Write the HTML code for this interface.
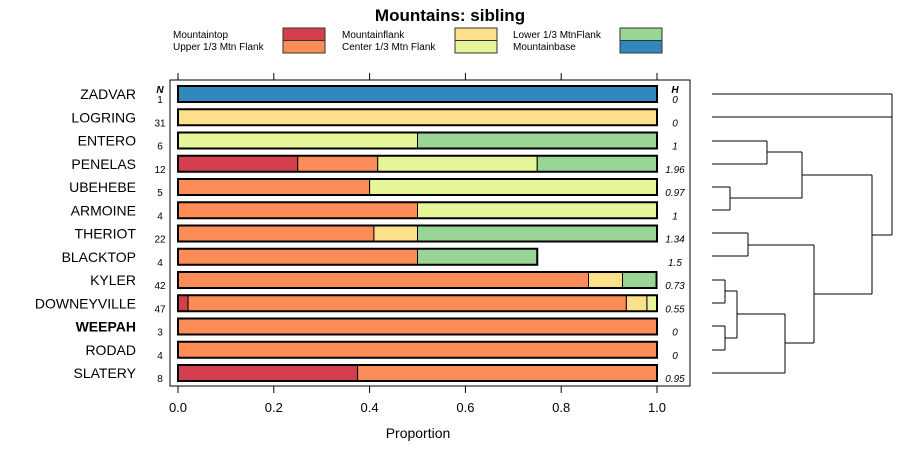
<!DOCTYPE html>
<html><head><meta charset="utf-8"><style>
body{margin:0;background:#fff;font-family:"Liberation Sans",sans-serif}
svg text{font-family:"Liberation Sans",sans-serif}
</style></head><body>
<svg id="c" width="900" height="460" xmlns="http://www.w3.org/2000/svg">
<text x="450" y="21" text-anchor="middle" font-size="17" font-weight="bold">Mountains: sibling</text>
<g id="legend"></g>
<rect x="170" y="80" width="520" height="306" fill="none" stroke="#000" stroke-width="1"/>
<g id="bars"></g>
<g id="axis"></g>
<text x="418" y="438" text-anchor="middle" font-size="14">Proportion</text>
<text x="160" y="93" text-anchor="middle" font-size="10" font-weight="bold" font-style="italic">N</text>
<text x="675" y="93" text-anchor="middle" font-size="10" font-weight="bold" font-style="italic">H</text>
<g id="dendro" fill="none" stroke="#000" stroke-width="1"></g>
</svg>
<script>
const categories=["ZADVAR","LOGRING","ENTERO","PENELAS","UBEHEBE","ARMOINE","THERIOT","BLACKTOP","KYLER","DOWNEYVILLE","WEEPAH","RODAD","SLATERY"];
const nValues=[1,31,6,12,5,4,22,4,42,47,3,4,8];
const hValues=["0","0","1","1.96","0.97","1","1.34","1.5","0.73","0.55","0","0","0.95"];
const seriesNames=["Mountaintop","Upper 1/3 Mtn Flank","Mountainflank","Center 1/3 Mtn Flank","Lower 1/3 MtnFlank","Mountainbase"];
const seriesColors=["#D53E4F","#FC8D59","#FEE08B","#E6F598","#99D594","#3288BD"];
const mountaintop=[0,0,0,0.25,0,0,0,0,0,0.021,0,0,0.375];
const upperFlank=[0,0,0,0.167,0.4,0.5,0.409,0.5,0.857,0.915,1,1,0.625];
const mountainflank=[0,1,0,0,0,0,0.091,0,0.071,0.043,0,0,0];
const centerFlank=[0,0,0.5,0.333,0.6,0.5,0,0,0,0.021,0,0,0];
const lowerFlank=[0,0,0.5,0.25,0,0,0.5,0.25,0.071,0,0,0,0];
const mountainbase=[1,0,0,0,0,0,0,0,0,0,0,0,0];
const ticks=[0,0.2,0.4,0.6,0.8,1.0];
const tickLabels=["0.0","0.2","0.4","0.6","0.8","1.0"];
const series=[mountaintop,upperFlank,mountainflank,centerFlank,lowerFlank,mountainbase];
const NS="http://www.w3.org/2000/svg";
const x=v=>178+v*479;
const y=i=>94+i*23.25;
function mk(p,t,a){const e=document.createElementNS(NS,t);for(const k in a)e.setAttribute(k,a[k]);p.appendChild(e);return e;}
const bars=document.getElementById('bars');
categories.forEach((c,i)=>{
  const yc=y(i);
  const lab=mk(bars,'text',{x:136,y:yc+5,'text-anchor':'end','font-size':14,'font-weight':c==="WEEPAH"?'bold':'normal'});lab.textContent=c;
  
  
  const nt=mk(bars,'text',{x:160,y:yc+9,'text-anchor':'middle','font-size':10});nt.textContent=nValues[i];
  
  
  const ht=mk(bars,'text',{x:675,y:yc+9,'text-anchor':'middle','font-size':10,'font-style':'italic'});ht.textContent=hValues[i];
  
  
  let cum=0;
  series.forEach((s,k)=>{
    if(s[i]>0){
      const r=mk(bars,'rect',{x:x(cum),y:yc-8,width:x(cum+s[i])-x(cum),height:16,fill:seriesColors[k],stroke:'#000','stroke-width':1});
      
      
      cum+=s[i];
    }
  });
  const o=mk(bars,'rect',{x:x(0),y:yc-8,width:x(cum)-x(0),height:16,fill:'none',stroke:'#000','stroke-width':2});
  
  
});
const ax=document.getElementById('axis');
ticks.forEach((t,i)=>{
  mk(ax,'line',{x1:x(t),x2:x(t),y1:386,y2:393,stroke:'#000'});
  mk(ax,'line',{x1:x(t),x2:x(t),y1:73,y2:80,stroke:'#000'});
  const tl=mk(ax,'text',{x:x(t),y:412,'text-anchor':'middle','font-size':13});tl.textContent=tickLabels[i];
  
  
});
const lg=document.getElementById('legend');
const lx=[[173,283],[342,455],[513,620]];
seriesNames.forEach((n,k)=>{
  const col=Math.floor(k/2),row=k%2;
  const t=mk(lg,'text',{x:lx[col][0],y:38+row*12,'font-size':10});t.textContent=n;
  
  
  const r=mk(lg,'rect',{x:lx[col][1],y:28+row*12.5,width:42,height:12.5,fill:seriesColors[k],stroke:'#333'});
  
  
});
const d=document.getElementById('dendro');
const segs=[
[712,94,892,94],[712,117,892,117],[892,94,892,235],[872,235,892,235],
[712,141,767,141],[712,164,767,164],[767,141,767,164],[767,152,802,152],
[712,187,730,187],[712,210,730,210],[730,187,730,210],[730,198,802,198],
[802,152,802,198],[802,175,872,175],[872,175,872,294],
[712,233,748,233],[712,256,748,256],[748,233,748,256],[748,245,814,245],
[712,280,725,280],[712,303,725,303],[725,280,725,303],[725,291,737,291],
[712,326,725,326],[712,350,725,350],[725,326,725,350],[725,338,737,338],
[737,291,737,338],[737,314,785,314],[712,373,785,373],[785,314,785,373],
[785,343,814,343],[814,245,814,343],[814,294,872,294]];
segs.forEach(s=>mk(d,'line',{x1:s[0],y1:s[1],x2:s[2],y2:s[3]}));
</script>
</body></html>
